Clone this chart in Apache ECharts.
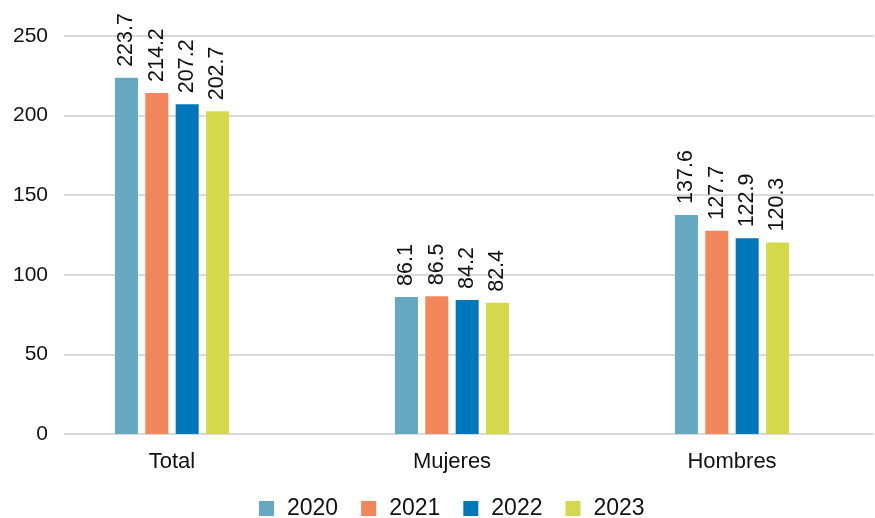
<!DOCTYPE html>
<html>
<head>
<meta charset="utf-8">
<script src="https://cdn.jsdelivr.net/npm/echarts@6/dist/echarts.min.js"></script>
<style>
  html, body { margin: 0; padding: 0; background: #fff; }
  #chart { width: 875px; height: 518px; }
</style>
</head>
<body>
<div id="chart"></div>
<script>
const categories = ['Total', 'Mujeres', 'Hombres']
const years = ['2020', '2021', '2022', '2023']
const values2020 = [223.7, 86.1, 137.6]
const values2021 = [214.2, 86.5, 127.7]
const values2022 = [207.2, 84.2, 122.9]
const values2023 = [202.7, 82.4, 120.3]
const yTicks = [0, 50, 100, 150, 200, 250]

const colors = ['#66a8c2', '#f1875a', '#0076bb', '#d3d94b']
const font = 'Liberation Sans'

const allValues = [values2020, values2021, values2022, values2023]

const series = years.map((y, i) => ({
  name: y,
  type: 'bar',
  xAxisIndex: 0,
  yAxisIndex: 0,
  barWidth: 23,
  barGap: '32%',
  itemStyle: { color: colors[i] },
  label: {
    show: true,
    position: 'top',
    rotate: 90,
    align: 'left',
    verticalAlign: 'middle',
    distance: 11,
    fontFamily: font,
    fontSize: 21.5,
    color: '#111',
    formatter: p => p.value.toFixed(1)
  },
  data: allValues[i]
}))

const myChart = echarts.init(document.getElementById('chart'), null, { renderer: 'canvas' })
const option = {
  animation: false,
  textStyle: { fontFamily: font },
  legend: {
    data: years,
    left: 254,
    top: 492,
    icon: 'rect',
    itemWidth: 15,
    itemHeight: 15,
    itemGap: 23,
    textStyle: { fontFamily: font, fontSize: 23, color: '#111', padding: [0, 0, 0, 8] }
  },
  grid: [
    { left: 32, right: 3, top: 36, height: 398 },
    { left: 64, right: 1, top: 36, height: 398 }
  ],
  xAxis: [
    {
      gridIndex: 0,
      type: 'category',
      data: categories,
      axisLine: { show: false },
      axisTick: { show: false },
      axisLabel: { fontFamily: font, fontSize: 22, color: '#111', margin: 17 }
    },
    {
      gridIndex: 1,
      type: 'value',
      show: false
    }
  ],
  yAxis: [
    {
      gridIndex: 0,
      type: 'value',
      min: 0,
      max: 250,
      interval: 50,
      show: false
    },
    {
      gridIndex: 1,
      type: 'value',
      min: yTicks[0],
      max: yTicks[yTicks.length - 1],
      interval: 50,
      axisLine: { show: false },
      axisTick: { show: false },
      splitLine: { lineStyle: { color: '#cccccc', width: 1.5 } },
      axisLabel: { fontFamily: font, fontSize: 21, color: '#111', margin: 16 }
    }
  ],
  series: series
}
myChart.setOption(option)
</script>
</body>
</html>
